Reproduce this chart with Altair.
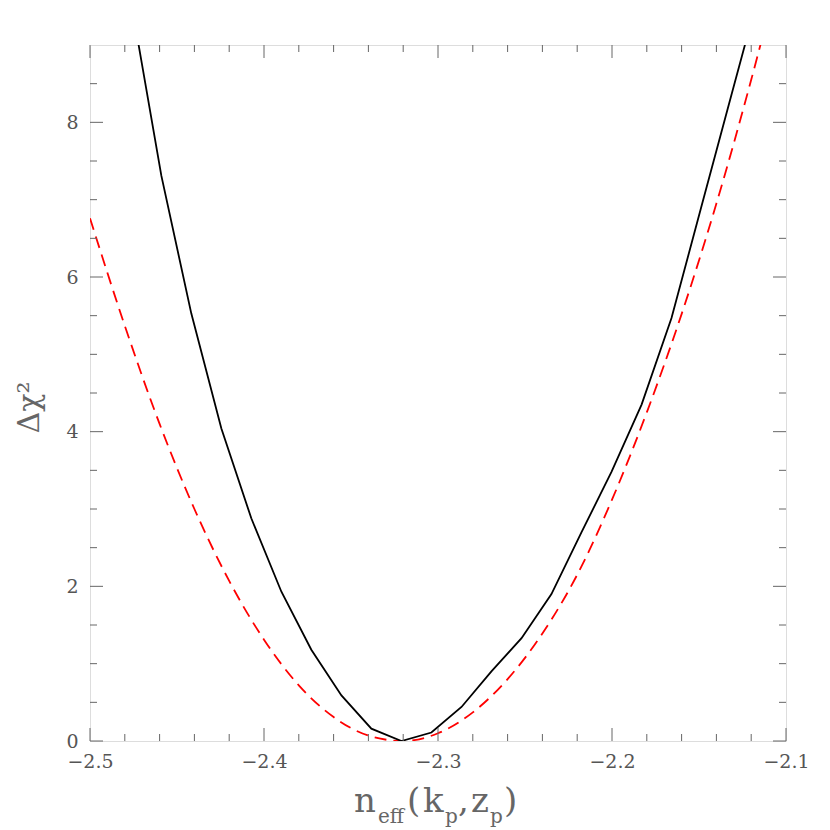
import altair as alt
import pandas as pd

# ---- data ----
black_x = [-2.4763, -2.4590, -2.4418, -2.4245, -2.4073, -2.3900, -2.3728, -2.3555,
           -2.3383, -2.3210, -2.3038, -2.2865, -2.2693, -2.2520, -2.2348, -2.2175,
           -2.2003, -2.1830, -2.1658, -2.1485, -2.1313, -2.1140]
black_y = [9.55, 7.31, 5.53, 4.04, 2.88, 1.93, 1.18, 0.59,
           0.16, 0.00, 0.11, 0.44, 0.90, 1.33, 1.90, 2.70,
           3.48, 4.35, 5.47, 6.92, 8.36, 9.80]

red_x = [-2.50, -2.48, -2.46, -2.44, -2.42, -2.40, -2.38, -2.36, -2.34, -2.32,
         -2.30, -2.28, -2.26, -2.24, -2.22, -2.20, -2.18, -2.16, -2.14, -2.12, -2.10]
red_y = [6.76, 5.37, 4.10, 3.00, 2.07, 1.31, 0.72, 0.31, 0.07, 0.00,
         0.10, 0.37, 0.80, 1.39, 2.15, 3.12, 4.25, 5.52, 6.95, 8.55, 10.3]

x_major = [-2.5, -2.4, -2.3, -2.2, -2.1]
x_minor = [-2.48, -2.46, -2.44, -2.42, -2.38, -2.36, -2.34, -2.32,
           -2.28, -2.26, -2.24, -2.22, -2.18, -2.16, -2.14, -2.12]
y_major = [0, 2, 4, 6, 8]
y_minor = [0.5, 1, 1.5, 2.5, 3, 3.5, 4.5, 5, 5.5, 6.5, 7, 7.5, 8.5]

W, H = 696, 696
FRAME = "#666666"
TXT = "#555555"
SERIF = "DejaVu Serif"

xs = alt.Scale(domain=[-2.5, -2.1], nice=False, zero=False)
ys = alt.Scale(domain=[0, 9], nice=False, zero=False)

df_black = pd.DataFrame({"x": black_x, "y": black_y})
df_red = pd.DataFrame({"x": red_x, "y": red_y})

x_axis = alt.Axis(values=x_major, domain=False, ticks=False, grid=False,
                  labelFont=SERIF, labelFontSize=19, labelColor=TXT,
                  labelPadding=11, format=".1f", title=None,
                  labelFlush=False, labelOverlap=False)
y_axis = alt.Axis(values=y_major, domain=False, ticks=False, grid=False,
                  labelFont=SERIF, labelFontSize=19, labelColor=TXT,
                  labelPadding=12, format="d", labelFlush=False,
                  labelOverlap=False,
                  title="Δχ²", titleFont=SERIF, titleFontSize=30,
                  titleFontWeight="normal", titleColor="#666666",
                  titleX=-52, titleY=362, titleAngle=270,
                  titleAlign="center", titleBaseline="alphabetic")

red = alt.Chart(df_red).mark_line(color="#ff0000", strokeWidth=1.8,
                                  strokeDash=[12, 7], interpolate="monotone",
                                  clip=True).encode(
    x=alt.X("x:Q", scale=xs, axis=x_axis),
    y=alt.Y("y:Q", scale=ys, axis=y_axis),
)
black = alt.Chart(df_black).mark_line(color="#000000", strokeWidth=1.8,
                                      clip=True).encode(
    x=alt.X("x:Q", scale=xs),
    y=alt.Y("y:Q", scale=ys),
)

def xticks(vals, length):
    d = pd.DataFrame({"v": vals})
    bot = alt.Chart(d).mark_rule(color=FRAME, strokeWidth=1).encode(
        x=alt.X("v:Q", scale=xs), y=alt.value(H), y2=alt.value(H - length))
    top = alt.Chart(d).mark_rule(color=FRAME, strokeWidth=1).encode(
        x=alt.X("v:Q", scale=xs), y=alt.value(0), y2=alt.value(length))
    return [bot, top]

def yticks(vals, length):
    d = pd.DataFrame({"v": vals})
    left = alt.Chart(d).mark_rule(color=FRAME, strokeWidth=1).encode(
        y=alt.Y("v:Q", scale=ys), x=alt.value(0), x2=alt.value(length))
    right = alt.Chart(d).mark_rule(color=FRAME, strokeWidth=1).encode(
        y=alt.Y("v:Q", scale=ys), x=alt.value(W), x2=alt.value(W - length))
    return [left, right]

ticks = xticks(x_major, 13) + xticks(x_minor, 7) + yticks(y_major, 13) + yticks(y_minor, 7)

one = alt.Data(values=[{"a": 1}])
def piece(txt, px, py, size):
    return alt.Chart(one).mark_text(text=txt, font=SERIF, fontSize=size,
                                    color="#666666", align="left",
                                    baseline="alphabetic").encode(
        x=alt.value(px), y=alt.value(py))

MAIN, SUB = 34, 20
title_parts = [
    piece("n", 264, 767, MAIN),
    piece("eff", 288, 778, SUB),
    piece("(", 317, 767, MAIN),
    piece("k", 333, 767, MAIN),
    piece("p", 355, 778, SUB),
    piece(",", 368, 767, MAIN),
    piece("z", 381, 767, MAIN),
    piece("p", 400, 778, SUB),
    piece(")", 414, 767, MAIN),
]

chart = alt.layer(red, black, *ticks, *title_parts).properties(
    width=W, height=H,
    padding={"left": 82, "top": 37, "right": 36, "bottom": 88},
    autosize=alt.AutoSizeParams(type="none"),
).configure_view(stroke=FRAME, strokeWidth=1.2).configure(background="white")

chart.save("out.html", embed_options={"renderer": "svg", "actions": False})
